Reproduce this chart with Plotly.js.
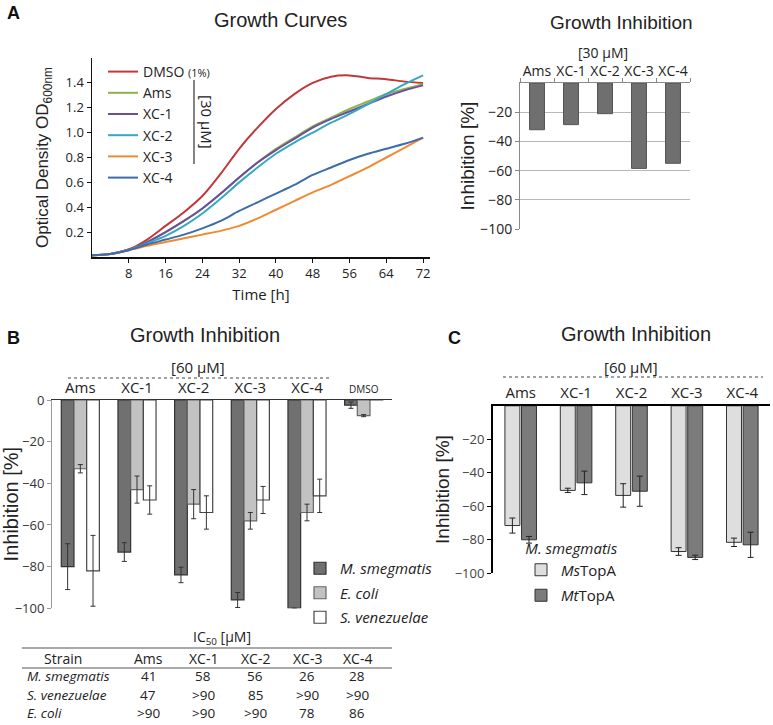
<!DOCTYPE html>
<html><head><meta charset="utf-8">
<script src="https://cdn.plot.ly/plotly-3.0.1.min.js"></script>
<style>html,body{margin:0;padding:0;background:#fff}#chart{width:773px;height:725px}</style>
</head><body><div id="chart"></div>
<script>
const W = 773, H = 725;
const px = x => x / W, py = y => 1 - y / H;

// ---- Panel A: growth curves (OD600 vs time) ----
const timeH   = [0, 4, 8, 12, 16, 20, 24, 28, 32, 36, 40, 44, 48, 52, 56, 60, 64, 68, 72];
const odDMSO  = [0.015,0.025,0.06,0.14,0.25,0.36,0.49,0.67,0.87,1.04,1.19,1.31,1.40,1.45,1.46,1.44,1.43,1.41,1.40];
const odAms   = [0.015,0.025,0.06,0.12,0.20,0.29,0.39,0.51,0.64,0.76,0.87,0.96,1.05,1.12,1.19,1.25,1.31,1.35,1.39];
const odXC1   = [0.015,0.025,0.06,0.12,0.20,0.29,0.39,0.51,0.64,0.76,0.86,0.95,1.04,1.11,1.17,1.23,1.29,1.34,1.38];
const odXC2   = [0.015,0.025,0.055,0.11,0.17,0.25,0.35,0.47,0.60,0.72,0.83,0.92,1.00,1.08,1.15,1.23,1.31,1.39,1.46];
const odXC3   = [0.015,0.025,0.055,0.09,0.12,0.15,0.18,0.21,0.25,0.31,0.38,0.45,0.52,0.58,0.65,0.72,0.80,0.88,0.96];
const odXC4   = [0.015,0.025,0.055,0.10,0.14,0.18,0.23,0.29,0.37,0.44,0.51,0.58,0.66,0.72,0.78,0.83,0.87,0.91,0.96];
const curveNames  = ['DMSO <span style="font-size:11px">(1%)</span>', 'Ams', 'XC-1', 'XC-2', 'XC-3', 'XC-4'];
const curveColors = ['#c0393a', '#8db14c', '#6b4f9e', '#35a8c2', '#f08a32', '#3c6cab'];
const curveValues = [odDMSO, odAms, odXC1, odXC2, odXC3, odXC4];

// ---- Panel A: inhibition at 30 uM ----
const compounds = ['Ams', 'XC-1', 'XC-2', 'XC-3', 'XC-4'];
const inhib30   = [-32, -28.5, -21, -58.5, -55];

// ---- Panel B: inhibition at 60 uM for three strains ----
const catsB      = ['Ams', 'XC-1', 'XC-2', 'XC-3', 'XC-4', 'DMSO'];
const msmegB     = [-80, -73, -84, -96, -100, -2.5];
const msmegErrB  = [11, 4.5, 3.7, 3.6, 0, 1.5];
const ecoliB     = [-33, -43, -50, -58, -54, -7.5];
const ecoliErrB  = [2, 6.5, 7, 4, 4, 0.5];
const svenB      = [-82, -48, -54, -48, -46, 2];
const svenErrB   = [17, 6.8, 8, 6.5, 8, 0.5];

// ---- Panel C: M. smegmatis MsTopA / MtTopA ----
const msTopA    = [-71.5, -50.5, -53.5, -87, -81.5];
const msTopAErr = [4.5, 1.3, 7, 2.3, 2.5];
const mtTopA    = [-80, -46, -51, -90.5, -83];
const mtTopAErr = [2, 7, 9, 1.3, 7.5];

// ---- IC50 table ----
const tableStrains = ['M. smegmatis', 'S. venezuelae', 'E. coli'];
const ic50Msmeg = ['41', '58', '56', '26', '28'];
const ic50Sven  = ['47', '>90', '85', '>90', '>90'];
const ic50Ecoli = ['>90', '>90', '>90', '78', '86'];
const ic50Rows  = [ic50Msmeg, ic50Sven, ic50Ecoli];

const SANS = 'Open Sans, sans-serif';
const ARIAL = 'Liberation Sans, Arial, sans-serif';

const traces = [];
curveValues.forEach((v, i) => {
  traces.push({type: 'scatter', mode: 'lines', x: timeH, y: v, name: curveNames[i],
    line: {color: curveColors[i], width: 2, shape: 'spline', smoothing: 0.8},
    xaxis: 'x', yaxis: 'y', legend: 'legend', hoverinfo: 'skip'});
});
traces.push({type: 'bar', x: compounds, y: inhib30, xaxis: 'x2', yaxis: 'y2', width: 0.44,
  marker: {color: '#6f6f6f', line: {color: '#555', width: 1}}, showlegend: false});

const bSeries = [
  {name: '<i>M. smegmatis</i>', y: msmegB, e: msmegErrB, c: '#707070', lc: '#333', off: -0.336},
  {name: '<i>E. coli</i>',      y: ecoliB, e: ecoliErrB, c: '#c2c2c2', lc: '#666', off: -0.112},
  {name: '<i>S. venezuelae</i>', y: svenB, e: svenErrB,  c: '#ffffff', lc: '#444', off: 0.112}
];
bSeries.forEach((s, i) => {
  traces.push({type: 'bar', x: catsB, y: s.y, name: s.name, xaxis: 'x3', yaxis: 'y3',
    width: 0.224, offset: s.off, cliponaxis: false, legend: 'legend2', legendgroup: 'b' + i,
    marker: {color: s.c, line: {color: s.lc, width: 1.2}},
    error_y: {type: 'data', array: s.e, color: '#333', thickness: 1, width: 2.5}});
});

const cSeries = [
  {name: '<i>Ms</i>TopA', y: msTopA, e: msTopAErr, c: '#dedede', off: -0.285},
  {name: '<i>Mt</i>TopA', y: mtTopA, e: mtTopAErr, c: '#7b7b7b', off: 0.015}
];
cSeries.forEach((s, i) => {
  traces.push({type: 'bar', x: compounds, y: s.y, name: s.name, xaxis: 'x4', yaxis: 'y4',
    width: 0.27, offset: s.off, legend: 'legend3', legendgroup: 'c' + i,
    marker: {color: s.c, line: {color: '#333', width: 1}},
    error_y: {type: 'data', array: s.e, color: '#222', thickness: 1, width: 3}});
});

function ann(x, y, text, size, extra) {
  return Object.assign({xref: 'paper', yref: 'paper', x: px(x), y: py(y), text: text, showarrow: false,
    xanchor: 'center', yanchor: 'middle', font: {size: size, family: SANS, color: '#222'}}, extra || {});
}
const annotations = [
  ann(14, 13, '<b>A</b>', 18, {font: {size: 18, family: ARIAL, color: '#111'}}),
  ann(280, 20, 'Growth Curves', 20, {font: {size: 20, family: ARIAL, color: '#222'}}),
  ann(621, 23, 'Growth Inhibition', 19, {font: {size: 19, family: ARIAL, color: '#222'}}),
  ann(603, 52, '[30 μM]', 14),
  ann(207, 122, '[30 μM]', 15, {textangle: 90}),
  ann(14, 338, '<b>B</b>', 18, {font: {size: 18, family: ARIAL, color: '#111'}}),
  ann(205, 335, 'Growth Inhibition', 20, {font: {size: 20, family: ARIAL, color: '#222'}}),
  ann(198, 367, '[60 μM]', 15),
  ann(455, 338, '<b>C</b>', 18, {font: {size: 18, family: ARIAL, color: '#111'}}),
  ann(636, 334, 'Growth Inhibition', 20, {font: {size: 20, family: ARIAL, color: '#222'}}),
  ann(631, 367, '[60 μM]', 15),
  ann(222, 637, 'IC<sub>50</sub> [μM]', 14)
];
const colX = [148, 203, 255, 307, 357];
const rowY = [676, 695, 713];
annotations.push(ann(63, 658, 'Strain', 14));
compounds.forEach((c, j) => annotations.push(ann(colX[j], 658, c, 14)));
tableStrains.forEach((s, i) => {
  annotations.push(ann(25, rowY[i], '<i>' + s + '</i>', 13.5, {xanchor: 'left'}));
  ic50Rows[i].forEach((v, j) => annotations.push(ann(colX[j], rowY[i], v, 13.5)));
});

function hline(x0, x1, y, extra) {
  return Object.assign({type: 'line', xref: 'paper', yref: 'paper', x0: px(x0), x1: px(x1), y0: py(y), y1: py(y),
    line: {color: '#555', width: 1}}, extra || {});
}
const shapes = [
  {type: 'line', xref: 'paper', yref: 'paper', x0: px(194), x1: px(194), y0: py(80), y1: py(164), line: {color: '#333', width: 1.2}},
  hline(68, 330, 378, {line: {color: '#444', width: 1, dash: 'dot'}}),
  hline(503, 763, 377, {line: {color: '#444', width: 1, dash: 'dot'}}),
  hline(22, 392, 648),
  hline(22, 392, 668)
];

const layout = {
  width: W, height: H, margin: {l: 0, r: 0, t: 0, b: 0},
  paper_bgcolor: '#fff', plot_bgcolor: 'rgba(0,0,0,0)',
  font: {family: SANS, color: '#222'}, barmode: 'overlay', hovermode: false,
  xaxis: {domain: [px(92), px(430)], range: [0, 73.5], anchor: 'y', showline: true, linecolor: '#111', linewidth: 1.5,
    ticks: 'outside', ticklen: 4, tickcolor: '#111', tickvals: [8, 16, 24, 32, 40, 48, 56, 64, 72],
    tickfont: {size: 13}, showgrid: false, zeroline: false,
    title: {text: 'Time [h]', font: {size: 15}, standoff: 8}},
  yaxis: {domain: [py(257), py(58)], range: [0, 1.6], anchor: 'x', showline: true, linecolor: '#111', linewidth: 1.5,
    ticks: 'outside', ticklen: 4, tickcolor: '#111', tickvals: [0.2, 0.4, 0.6, 0.8, 1.0, 1.2, 1.4], tickformat: '.1f',
    tickfont: {size: 13}, showgrid: false, zeroline: false,
    title: {text: 'Optical Density OD<sub>600nm</sub>', font: {size: 17, family: ARIAL}, standoff: 12}},
  xaxis2: {domain: [px(520), px(690)], anchor: 'y2', side: 'top', type: 'category', showline: true, linecolor: '#888',
    ticks: 'outside', ticklen: 4, tickcolor: '#888', tickson: 'boundaries', tickfont: {size: 14}, tickangle: 0,
    showgrid: false, zeroline: false},
  yaxis2: {domain: [py(229), py(83)], range: [-100, 0], anchor: 'x2', tickvals: [-100, -80, -60, -40, -20],
    showgrid: true, gridcolor: '#b8b8b8', showline: true, linecolor: '#888', ticks: 'outside', ticklen: 4, tickcolor: '#888',
    tickfont: {size: 14}, zeroline: false,
    title: {text: 'Inhibition [%]', font: {size: 19, family: ARIAL}, standoff: 0}},
  xaxis3: {domain: [px(52), px(392)], anchor: 'y3', side: 'top', type: 'category', showline: true, linecolor: '#333',
    linewidth: 1.2, ticks: '', tickfont: {size: 15}, tickvals: catsB, tickangle: 0,
    ticktext: ['Ams', 'XC-1', 'XC-2', 'XC-3', 'XC-4', '<span style="font-size:10px">DMSO</span>'],
    showgrid: false, zeroline: false},
  yaxis3: {domain: [py(608.3), py(400)], range: [-100, 0], anchor: 'x3', tickvals: [-100, -80, -60, -40, -20, 0],
    showline: true, linecolor: '#999', ticks: 'outside', ticklen: 4, tickcolor: '#999', tickfont: {size: 13, color: '#333'},
    showgrid: false, zeroline: false,
    title: {text: 'Inhibition [%]', font: {size: 20, family: ARIAL}, standoff: 8}},
  xaxis4: {domain: [px(493), px(770)], anchor: 'y4', side: 'top', type: 'category', showline: true, linecolor: '#000',
    linewidth: 2, ticks: '', tickfont: {size: 15}, tickangle: 0, showgrid: false, zeroline: false},
  yaxis4: {domain: [py(573.3), py(405.8)], range: [-100, 0], anchor: 'x4', tickvals: [-100, -80, -60, -40, -20],
    showline: true, linecolor: '#000', linewidth: 2, ticks: 'outside', ticklen: 4, tickcolor: '#000',
    tickfont: {size: 13, color: '#444'}, showgrid: false, zeroline: false,
    title: {text: 'Inhibition [%]', font: {size: 19, family: ARIAL}, standoff: 0}},
  legend: {x: px(103), y: py(56), xanchor: 'left', yanchor: 'top', bgcolor: 'rgba(0,0,0,0)', font: {size: 14}, tracegroupgap: 0},
  legend2: {x: px(300), y: py(552), xanchor: 'left', yanchor: 'top', bgcolor: 'rgba(0,0,0,0)', font: {size: 15}, tracegroupgap: 2},
  legend3: {x: px(521), y: py(534), xanchor: 'left', yanchor: 'top', bgcolor: 'rgba(0,0,0,0)', font: {size: 15}, tracegroupgap: 3,
    title: {text: '<i>M. smegmatis</i>', side: 'top center', font: {size: 15}}},
  annotations: annotations,
  shapes: shapes
};

Plotly.newPlot('chart', traces, layout, {staticPlot: true, displayModeBar: false});
</script>
</body></html>
